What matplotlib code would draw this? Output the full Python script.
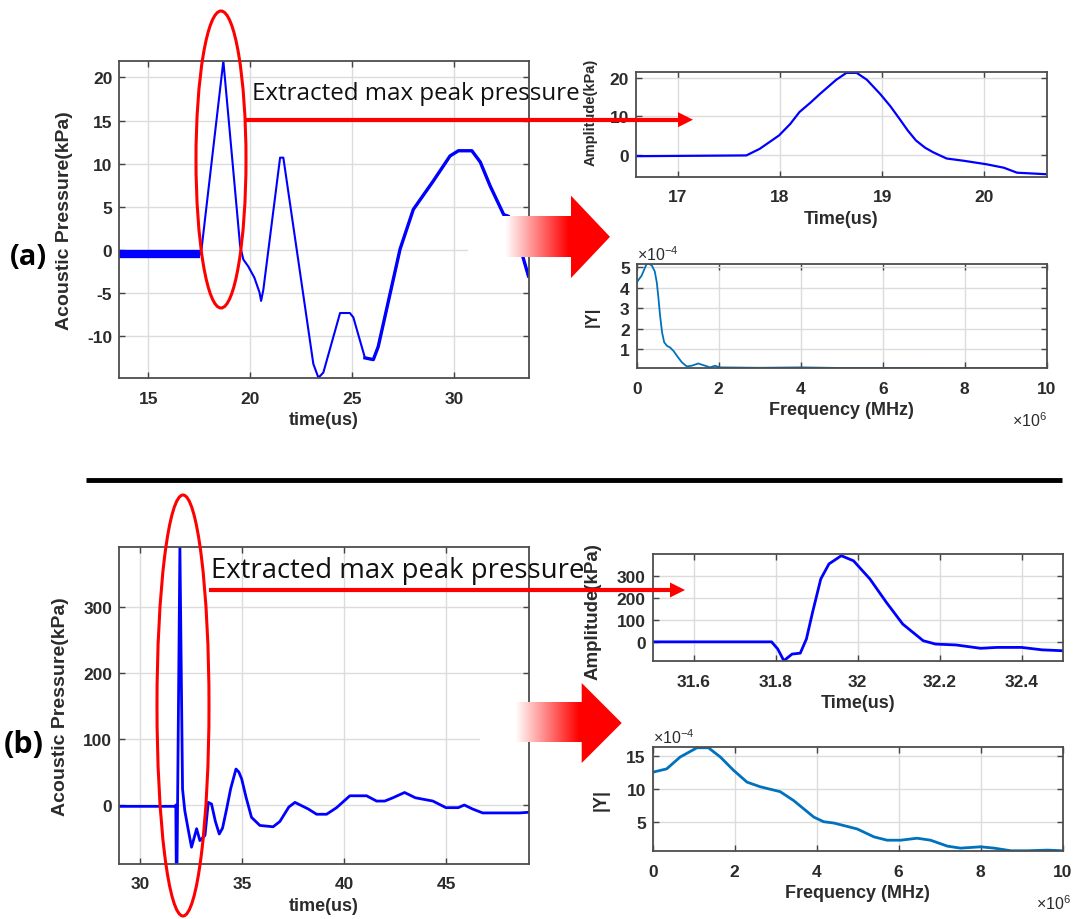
import numpy as np
import matplotlib
matplotlib.use("Agg")
import matplotlib.pyplot as plt
from matplotlib.patches import Ellipse, Polygon
from matplotlib.ticker import FormatStrFormatter

plt.rcParams["font.family"] = ["Liberation Sans", "DejaVu Sans"]
plt.rcParams["axes.unicode_minus"] = False
plt.rcParams["mathtext.default"] = "regular"

# ---- (a) full waveform
a_time = [13.58, 17.55, 17.62, 18.68, 19.5, 19.66, 19.9, 20.2, 20.45, 20.53, 20.64,
          21.46, 21.62, 23.09, 23.34, 23.58, 24.4, 24.88, 25.05, 25.62, 26.03, 26.27,
          27.34, 27.99, 28.97, 29.79, 30.2, 30.86, 31.27, 31.76, 32.42, 32.66, 33.3, 33.63]
a_pres = [-0.5, -0.5, 0.3, 21.9, 0.5, -1.1, -1.9, -3.2, -4.9, -5.9, -4.6,
          10.7, 10.7, -13.2, -14.8, -14.2, -7.3, -7.3, -7.8, -12.5, -12.7, -11.2,
          0.1, 4.7, 8.0, 10.9, 11.5, 11.5, 10.2, 7.4, 4.1, 3.9, -0.3, -3.0]

# (a) extracted peak
a_zoom_time = [16.59, 17.67, 17.8, 17.99, 18.1, 18.19, 18.3, 18.39, 18.55, 18.65, 18.75,
               18.85, 18.98, 19.08, 19.17, 19.25, 19.33, 19.42, 19.5, 19.63, 19.8,
               20.02, 20.19, 20.32, 20.61]
a_zoom_amp = [-0.4, -0.2, 1.5, 5.0, 8.0, 11.1, 13.6, 15.8, 19.5, 21.3, 21.3,
              19.5, 15.8, 12.6, 9.3, 6.3, 3.7, 1.8, 0.6, -1.0, -1.6,
              -2.5, -3.4, -4.7, -5.1]

# (a) spectrum, MHz and x1e-4
a_freq = [0, 0.12, 0.24, 0.3, 0.37, 0.44, 0.49, 0.53, 0.57, 0.62, 0.67, 0.74, 0.81,
          0.9, 0.98, 1.1, 1.22, 1.34, 1.5, 1.67, 1.79, 1.91, 2.03, 3.0, 4.0, 5.0,
          6.0, 8.0, 10.0]
a_mag = [4.26, 4.59, 5.16, 5.18, 5.08, 4.8, 4.26, 3.5, 2.63, 1.8, 1.33, 1.15, 1.08,
         0.9, 0.67, 0.35, 0.15, 0.18, 0.29, 0.18, 0.1, 0.18, 0.1, 0.08, 0.1, 0.07,
         0.07, 0.06, 0.06]

# ---- (b) full waveform
b_time = [29.0, 31.74, 31.76, 31.78, 31.82, 31.96, 32.09, 32.2, 32.36, 32.53, 32.78,
          32.94, 33.19, 33.35, 33.51, 33.7, 33.89, 34.05, 34.25, 34.45, 34.71, 34.85,
          34.99, 35.2, 35.47, 35.88, 36.53, 36.86, 37.3, 37.6, 37.76, 38.25, 38.66,
          39.15, 39.64, 40.29, 41.11, 41.6, 42.0, 42.4, 42.97, 43.5, 44.36, 45.0,
          45.6, 45.9, 46.3, 46.8, 48.6, 49.07]
b_pres = [-2, -2, 0, -89, -89, 392, 24, -8.6, -36, -64, -36,
          -54, -46, 4, 1.5, -25, -44, -35, -6, 25, 54.6, 50,
          39.4, 12, -18.7, -31, -33, -25, -3, 4, 1.5, -6, -14,
          -14, -4, 14, 14, 6, 6, 11, 19, 11, 6, -4,
          -4, 0, -6, -12, -12, -11]

# (b) extracted peak
b_zoom_time = [31.5, 31.79, 31.805, 31.82, 31.84, 31.86, 31.875, 31.89, 31.91, 31.93,
               31.96, 31.99, 32.03, 32.07, 32.11, 32.16, 32.19, 32.24, 32.3, 32.34,
               32.4, 32.45, 32.5]
b_zoom_amp = [2, 2, -30, -83, -53, -49, 15, 135, 285, 353,
              390, 367, 285, 180, 82, 7, -8, -12, -27, -23,
              -23, -34, -38]

# (b) spectrum
b_freq = [0, 0.34, 0.67, 1.08, 1.36, 1.65, 1.97, 2.3, 2.62, 3.11, 3.44, 3.93, 4.17,
          4.42, 4.99, 5.4, 5.72, 6.05, 6.45, 6.78, 7.19, 7.51, 8.0, 8.33, 8.74,
          9.14, 9.63, 10.0]
b_mag = [12.5, 13.0, 14.8, 16.2, 16.2, 14.8, 12.8, 11.0, 10.3, 9.55, 8.2, 5.7, 5.0,
         4.8, 3.9, 2.7, 2.2, 2.2, 2.5, 2.2, 1.3, 1.0, 1.2, 1.0, 0.6,
         0.6, 0.7, 0.6]

TXT = "#2b2b2b"
W, H = 1073, 920


def px_axes(fig, left, top, right, bottom):
    return fig.add_axes([left / W, 1 - bottom / H, (right - left) / W, (bottom - top) / H])


def style(ax, xlim, ylim, xticks, yticks, xlabel, ylabel, xl_size=13, yl_size=14,
          tick_size=12.5):
    ax.set_xlim(*xlim)
    ax.set_ylim(*ylim)
    ax.set_xticks(xticks)
    ax.set_yticks(yticks)
    ax.xaxis.set_major_formatter(FormatStrFormatter("%g"))
    ax.yaxis.set_major_formatter(FormatStrFormatter("%g"))
    ax.grid(True, color="#dcdcdc", lw=1.0)
    ax.set_axisbelow(True)
    ax.tick_params(direction="in", top=True, right=True, length=4, width=1,
                   color="#444444", labelsize=tick_size, labelcolor=TXT)
    ax.tick_params(axis="x", pad=9)
    ax.tick_params(axis="y", pad=5)
    for lab in ax.get_xticklabels() + ax.get_yticklabels():
        lab.set_fontweight("bold")
    for sp in ax.spines.values():
        sp.set_color("#4d4d4d")
        sp.set_linewidth(1.3)
    ax.set_xlabel(xlabel, fontsize=xl_size, fontweight="bold", color=TXT, labelpad=4)
    ax.set_ylabel(ylabel, fontsize=yl_size, fontweight="bold", color=TXT)


fig = plt.figure(figsize=(W / 100, H / 100), dpi=100)

# (a) main
ax = px_axes(fig, 119.3, 62, 529, 379)
ax.plot(a_time, a_pres, color="#0000ff", lw=1.5)
ax.plot(a_time[:2], a_pres[:2], color="#0000ff", lw=6, solid_capstyle="butt")
ax.plot(a_time[19:], a_pres[19:], color="#0000ff", lw=2.4)
style(ax, (13.58, 33.66), (-14.83, 21.9), [15, 20, 25, 30], [-10, -5, 0, 5, 10, 15, 20],
      "time(us)", "Acoustic Pressure(kPa)")
ax.yaxis.set_label_coords(-0.113, 0.5)

# (a) zoomed peak
ax = px_axes(fig, 636, 72.7, 1046.7, 177.7)
ax.plot(a_zoom_time, a_zoom_amp, color="#0000ff", lw=1.6)
style(ax, (16.59, 20.61), (-5.74, 21.6), [17, 18, 19, 20], [0, 10, 20],
      "Time(us)", "Amplitude(kPa)", yl_size=10.5)
ax.yaxis.set_label_coords(-0.094, 0.62)

# (a) spectrum
ax = px_axes(fig, 636.7, 265, 1046.7, 369.3)
ax.plot(a_freq, a_mag, color="#0072bd", lw=1.3)
style(ax, (0, 10), (0.055, 5.16), [0, 2, 4, 6, 8, 10], [1, 2, 3, 4, 5],
      "Frequency (MHz)", "|Y|", yl_size=12)
ax.yaxis.set_label_coords(-0.09, 0.5)
ax.text(0.0, 1.01, r"$\times10^{-4}$", transform=ax.transAxes, ha="left", va="bottom",
        fontsize=11.5, color=TXT)
ax.annotate(r"$\times10^{6}$", xy=(1.0, 0), xycoords="axes fraction", xytext=(0, -37),
            textcoords="offset points", ha="right", va="center", fontsize=11.5, color=TXT)

# (b) main
ax = px_axes(fig, 119.3, 547.7, 529, 865)
ax.plot(b_time, b_pres, color="#0000ff", lw=2.0)
style(ax, (28.99, 49.07), (-89.5, 392), [30, 35, 40, 45], [0, 100, 200, 300],
      "time(us)", "Acoustic Pressure(kPa)")
ax.yaxis.set_label_coords(-0.123, 0.5)

# (b) zoomed peak
ax = px_axes(fig, 652.7, 555, 1062.6, 662.3)
ax.plot(b_zoom_time, b_zoom_amp, color="#0000ff", lw=2.0)
style(ax, (31.5, 32.5), (-85.6, 397.7), [31.6, 31.8, 32, 32.2, 32.4], [0, 100, 200, 300],
      "Time(us)", "Amplitude(kPa)", yl_size=13.5)
ax.yaxis.set_label_coords(-0.125, 0.47)

# (b) spectrum
ax = px_axes(fig, 652.7, 748.3, 1062.6, 852.3)
ax.plot(b_freq, b_mag, color="#0072bd", lw=2.0)
style(ax, (0, 10), (0.52, 16.27), [0, 2, 4, 6, 8, 10], [5, 10, 15],
      "Frequency (MHz)", "|Y|", yl_size=13)
ax.yaxis.set_label_coords(-0.104, 0.5)
ax.text(0.0, 1.01, r"$\times10^{-4}$", transform=ax.transAxes, ha="left", va="bottom",
        fontsize=11.5, color=TXT)
ax.annotate(r"$\times10^{6}$", xy=(1.02, 0), xycoords="axes fraction", xytext=(0, -37),
            textcoords="offset points", ha="right", va="center", fontsize=11.5, color=TXT)

# overlay with annotations in pixel coordinates
ov = fig.add_axes([0, 0, 1, 1], zorder=10)
ov.axis("off")


def grad_arrow(x0, x_fade0, x_fade1, x_head, x_tip, y_s0, y_s1, y_h0, y_h1):
    xs = np.linspace(x0, x_head, 200)
    t = np.clip((xs - x_fade0) / (x_fade1 - x_fade0), 0, 1)
    img = np.stack([np.ones_like(t), 1 - t, 1 - t], axis=-1)[None, :, :]
    ov.imshow(img, extent=(x0, x_head + 0.5, y_s1, y_s0), aspect="auto",
              interpolation="bilinear", zorder=3)
    ov.add_patch(Polygon([(x_head, y_h0), (x_tip, (y_h0 + y_h1) / 2), (x_head, y_h1)],
                         closed=True, facecolor="#ff0000", edgecolor="none", zorder=4))


def red_pointer(x0, x1, y, head_len=15, head_half=7.5):
    ov.plot([x0, x1 - head_len + 2], [y, y], color="#ff0000", lw=3.0,
            solid_capstyle="butt", zorder=5)
    ov.add_patch(Polygon([(x1 - head_len, y - head_half), (x1, y), (x1 - head_len, y + head_half)],
                         closed=True, facecolor="#ff0000", edgecolor="none", zorder=5))


grad_arrow(468, 505, 568, 571, 610, 217.7, 258.3, 196.7, 279)
grad_arrow(480, 515, 578, 581.7, 621.7, 704, 743.3, 684, 764)

ov.add_patch(Ellipse((221, 160.5), 50, 297, fill=False, edgecolor="#ff0000", lw=2.2, zorder=6))
ov.add_patch(Ellipse((183, 706.5), 52, 421, fill=False, edgecolor="#ff0000", lw=2.2, zorder=6))

red_pointer(246, 693, 120.7)
red_pointer(209, 685, 591)

ov.text(252, 100, "Extracted max peak pressure", family=["Open Sans", "DejaVu Sans"],
        fontsize=17.4, color="#111111", ha="left", va="baseline", zorder=7)
ov.text(211, 578, "Extracted max peak pressure", family=["Open Sans", "DejaVu Sans"],
        fontsize=19.8, color="#111111", ha="left", va="baseline", zorder=7)

ov.text(10, 258, "(a)", family=["Open Sans", "DejaVu Sans"], fontweight="bold",
        fontsize=21, color="#000000", ha="left", va="center")
ov.text(4, 745, "(b)", family=["Open Sans", "DejaVu Sans"], fontweight="bold",
        fontsize=22, color="#000000", ha="left", va="center")

ov.plot([86, 1062], [481, 481], color="#000000", lw=3.5, solid_capstyle="butt")

ov.set_xlim(0, W)
ov.set_ylim(H, 0)

fig.savefig("out.png", dpi=100)
